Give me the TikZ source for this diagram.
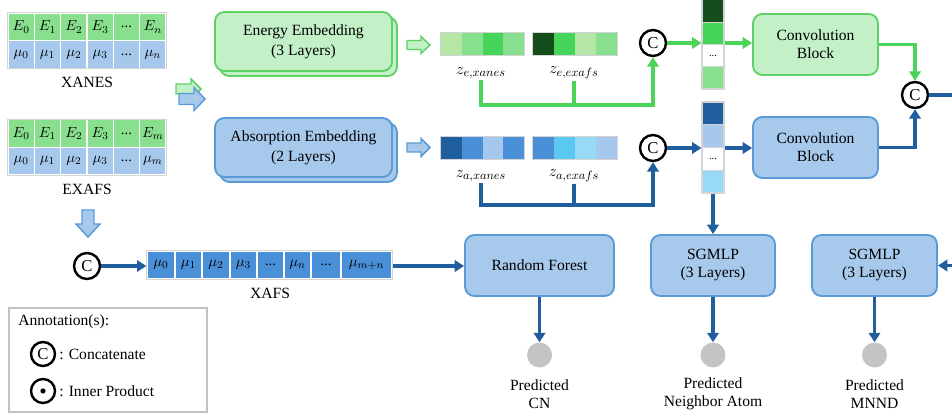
\documentclass[tikz,border=0pt]{standalone}
\usepackage{fontspec}
\setmainfont{Liberation Serif}
\usetikzlibrary{arrows.meta,calc}

\definecolor{gfill}{HTML}{C3F0C6}
\definecolor{gborder}{HTML}{5ED166}
\definecolor{gline}{HTML}{4CD35A}
\definecolor{bfill}{HTML}{A7C9EC}
\definecolor{bborder}{HTML}{5B9BD5}
\definecolor{bline}{HTML}{215E9E}
\definecolor{tgreen}{HTML}{88E08F}
\definecolor{tblue}{HTML}{A6C8EC}
\definecolor{xblue}{HTML}{4A90D9}
\definecolor{zga}{HTML}{B5E6A8}
\definecolor{zgb}{HTML}{88E08F}
\definecolor{zgc}{HTML}{47D45A}
\definecolor{zgd}{HTML}{154E1C}
\definecolor{zba}{HTML}{215E9E}
\definecolor{zbb}{HTML}{4A90D9}
\definecolor{zbc}{HTML}{A6C8EC}
\definecolor{zbd}{HTML}{5BC8F0}
\definecolor{zbe}{HTML}{96DAF5}
\definecolor{tborder}{HTML}{D4D4D4}
\definecolor{outgray}{HTML}{C4C4C4}

\newcommand\tdots{...}
\newcommand\rblockarrow[7]{% x0, yc, length, headlength, shafthalf, headhalf, style
  \draw[#7] ({#1},{#2-#5}) -- ({#1+#3-#4},{#2-#5}) -- ({#1+#3-#4},{#2-#6}) -- ({#1+#3},{#2})
  -- ({#1+#3-#4},{#2+#6}) -- ({#1+#3-#4},{#2+#5}) -- ({#1},{#2+#5}) -- cycle;}

\begin{document}
\begin{tikzpicture}[x=0.75pt,y=-0.75pt,
  font=\fontsize{11.7}{13.5}\selectfont,
  gbox/.style={draw=gborder, fill=gfill, line width=1.4pt, rounded corners=7pt, align=center, inner sep=0pt},
  bbox/.style={draw=bborder, fill=bfill, line width=1.4pt, rounded corners=7pt, align=center, inner sep=0pt},
  cnode/.style={circle, draw=black, line width=1.8pt, fill=white, minimum size=19.5pt, inner sep=0pt, font=\fontsize{12.5}{12.5}\selectfont},
  gl/.style={draw=gline, line width=2.5pt},
  bl/.style={draw=bline, line width=2.5pt},
  tip/.style={-{Triangle[length=7pt,width=8.5pt]}},
  tcell/.style={draw=white, line width=1pt, inner sep=0pt, minimum width=19.75pt, minimum height=20.6pt, font=\fontsize{11}{11}\selectfont},
  zcell/.style={draw=none, inner sep=0pt, minimum width=15.56pt, minimum height=16.5pt},
  vcell/.style={draw=tborder, line width=0.8pt, inner sep=0pt, minimum width=16.5pt, font=\fontsize{8}{8}\selectfont},
  gblock/.style={draw=gborder, fill=gfill, line width=1.1pt},
  bblock/.style={draw=bborder, fill=bfill, line width=1.1pt},
  outdot/.style={circle, fill=outgray, minimum size=18.75pt, inner sep=0pt},
  lbl/.style={align=center, inner sep=1pt}
]
\useasboundingbox (0,0) rectangle (952,416);

% ---------- XANES table ----------
\foreach \t [count=\i from 0] in {$E_0$,$E_1$,$E_2$,$E_3$,\tdots,$E_n$}
  \node[tcell, fill=tgreen] (xae\i) at ({8+26.33*(\i+0.5)},27) {\t};
\foreach \t [count=\i from 0] in {$\mu_0$,$\mu_1$,$\mu_2$,$\mu_3$,\tdots,$\mu_n$}
  \node[tcell, fill=tblue] (xam\i) at ({8+26.33*(\i+0.5)},54.5) {\t};
\draw[tborder, line width=0.8pt] (xae0.north west) rectangle (xam5.south east);
\node[lbl] (xanes) at (87,82) {XANES};

% ---------- EXAFS table ----------
\foreach \t [count=\i from 0] in {$E_0$,$E_1$,$E_2$,$E_3$,\tdots,$E_m$}
  \node[tcell, fill=tgreen] (exe\i) at ({8+26.33*(\i+0.5)},133.5) {\t};
\foreach \t [count=\i from 0] in {$\mu_0$,$\mu_1$,$\mu_2$,$\mu_3$,\tdots,$\mu_m$}
  \node[tcell, fill=tblue] (exm\i) at ({8+26.33*(\i+0.5)},161) {\t};
\draw[tborder, line width=0.8pt] (exe0.north west) rectangle (exm5.south east);
\node[lbl] (exafs) at (87,189) {EXAFS};

% ---------- block arrows ----------
\rblockarrow{176}{89}{25}{10}{5}{10}{gblock}
\rblockarrow{179}{99}{26}{11}{5.5}{11.5}{bblock}
\rblockarrow{407}{45}{23}{9}{4.5}{8.5}{gblock}
\rblockarrow{407}{147.5}{23}{9}{4.5}{9}{bblock}
\draw[bblock] (82,210) -- (94,210) -- (94,224) -- (100,224) -- (88,237) -- (76,224) -- (82,224) -- cycle;

% ---------- embeddings ----------
\node[gbox, minimum width=132.75pt, minimum height=44.25pt] (eeback) at (308.5,46.5) {};
\node[gbox, minimum width=132.75pt, minimum height=44.25pt, font=\fontsize{11.7}{15}\selectfont] (ee) at (303.5,41.5) {Energy Embedding\\(3 Layers)};
\node[bbox, minimum width=132.75pt, minimum height=44.25pt] (aeback) at (308.5,152.5) {};
\node[bbox, minimum width=132.75pt, minimum height=44.25pt, font=\fontsize{11.7}{15}\selectfont] (ae) at (303.5,147.5) {Absorption Embedding\\(2 Layers)};

% ---------- z vectors ----------
\foreach \c [count=\i from 0] in {zga,zgb,zgc,zgb}
  \node[zcell, fill=\c] (zex\i) at ({441+20.75*(\i+0.5)},44) {};
\foreach \c [count=\i from 0] in {zgd,zgc,zga,zgb}
  \node[zcell, fill=\c] (zee\i) at ({533+21*(\i+0.5)},44) {};
\foreach \c [count=\i from 0] in {zba,zbb,zbc,zbb}
  \node[zcell, fill=\c] (zax\i) at ({441+20.75*(\i+0.5)},148) {};
\foreach \c [count=\i from 0] in {zbb,zbd,zbe,zbc}
  \node[zcell, fill=\c] (zae\i) at ({533+21*(\i+0.5)},148) {};
\draw[tborder, line width=0.6pt] (zex0.north west) rectangle (zex3.south east);
\draw[tborder, line width=0.6pt] (zee0.north west) rectangle (zee3.south east);
\draw[tborder, line width=0.6pt] (zax0.north west) rectangle (zax3.south east);
\draw[tborder, line width=0.6pt] (zae0.north west) rectangle (zae3.south east);

\node[lbl, font=\fontsize{13}{13}\selectfont] (lzex) at (481,73) {$z_{e,xanes}$};
\node[lbl, font=\fontsize{13}{13}\selectfont] (lzee) at (574,73) {$z_{e,exafs}$};
\node[lbl, font=\fontsize{13}{13}\selectfont] (lzax) at (481,176) {$z_{a,xanes}$};
\node[lbl, font=\fontsize{13}{13}\selectfont] (lzae) at (574,176) {$z_{a,exafs}$};

% ---------- concat circles ----------
\node[cnode] (ct) at (653,43) {C};
\node[cnode] (cb) at (653,148) {C};
\coordinate (gy) at (0,105);
\coordinate (by) at (0,205);
\draw[gl, tip] (lzex.south) |- (gy -| ct) -- (ct.south);
\draw[gl] (lzee.south) -- (lzee.south |- gy);
\draw[bl, tip] (lzax.south) |- (by -| cb) -- (cb.south);
\draw[bl] (lzae.south) -- (lzae.south |- by);

% ---------- column vectors ----------
\node[vcell, fill=zgd, minimum height=16.7pt] (vt0) at (713,11.1) {};
\node[vcell, fill=zgc, minimum height=16.7pt] (vt1) at (713,33.4) {};
\node[vcell, fill=white, minimum height=16.7pt] (vt2) at (713,55.6) {\tdots};
\node[vcell, fill=zgb, minimum height=16.7pt] (vt3) at (713,77.9) {};
\node[vcell, fill=zba, minimum height=17.1pt] (vb0) at (713,113.4) {};
\node[vcell, fill=zbc, minimum height=17.1pt] (vb1) at (713,136.1) {};
\node[vcell, fill=white, minimum height=17.1pt] (vb2) at (713,158.9) {\tdots};
\node[vcell, fill=zbe, minimum height=17.1pt] (vb3) at (713,181.6) {};
\draw[tborder, line width=1.2pt] (vt0.north west) rectangle (vt3.south east);
\draw[tborder, line width=1.2pt] (vb0.north west) rectangle (vb3.south east);

% ---------- convolution blocks ----------
\node[gbox, minimum width=93.75pt, minimum height=45.75pt] (convt) at (815.5,44.5) {Convolution\\Block};
\node[bbox, minimum width=93.75pt, minimum height=45.75pt] (convb) at (815.5,147.5) {Convolution\\Block};

\draw[gl, tip] (ct.east) -- (ct.east -| vt0.west);
\draw[gl, tip] (ct -| vt0.east) -- (ct -| convt.west);
\draw[bl, tip] (cb.east) -- (cb.east -| vb0.west);
\draw[bl, tip] (cb -| vb0.east) -- (cb -| convb.west);

\node[cnode] (cr) at (915,95) {C};
\draw[gl, tip] (convt.east) -| (cr.north);
\draw[bl, tip] (convb.east) -| (cr.south);
\coordinate (rout) at (953,95);
\draw[bl] (cr.east) -- (rout);

% ---------- XAFS row ----------
\node[cnode] (cx) at (87,266) {C};
\foreach \a/\b/\t [count=\i from 0] in {147/175/{$\mu_0$},175/202/{$\mu_1$},202/230/{$\mu_2$},230/257/{$\mu_3$},257/284/{\tdots},284/311/{$\mu_n$},311/341/{\tdots},341/392/{$\mu_{m+n}$}}
  \node[tcell, fill=xblue, minimum height=21pt, minimum width={(\b-\a)*0.75pt}] (xf\i) at ({(\a+\b)/2},265) {\t};
\draw[tborder, line width=0.8pt] (xf0.north west) rectangle (xf7.south east);
\node[lbl] (xafs) at (270,293) {XAFS};
\draw[bl, tip] (cx.east) -- (cx.east -| xf0.west);

% ---------- bottom heads ----------
\node[bbox, minimum width=111.75pt, minimum height=45.75pt] (rf) at (539.5,265.5) {Random Forest};
\node[bbox, minimum width=93pt, minimum height=45.75pt] (sg1) at (713,265.5) {SGMLP\\(3 Layers)};
\node[bbox, minimum width=93.75pt, minimum height=45.75pt] (sg2) at (874.5,265.5) {SGMLP\\(3 Layers)};

\draw[bl, tip] (xf7.east |- cx) -- (cx -| rf.west);
\draw[bl, tip] (vb3.south) -- (sg1.north);
\coordinate (rin) at (953,265.5);
\draw[bl, tip] (rin) -- (sg2.east);

\node[outdot] (ocn) at (539.5,355) {};
\node[outdot] (ona) at (713,355) {};
\node[outdot] (omn) at (874.5,355) {};
\draw[bl, tip] (rf.south) -- (ocn.north);
\draw[bl, tip] (sg1.south) -- (ona.north);
\draw[bl, tip] (sg2.south) -- (omn.north);

\node[lbl, font=\fontsize{11.7}{13.5}\selectfont] (tcn) at (539.5,394) {Predicted\\CN};
\node[lbl, font=\fontsize{11.7}{13.5}\selectfont] (tna) at (713,394) {Predicted\\Neighbor Atom};
\node[lbl, font=\fontsize{11.7}{13.5}\selectfont] (tmn) at (874.5,394) {Predicted\\MNND};

% ---------- annotation box ----------
\node[draw=tborder!80!gray, line width=1.5pt, minimum width=148.5pt, minimum height=78pt, inner sep=0pt] (ann) at (108,360) {};
\node[anchor=west, inner sep=0pt] (anntitle) at (18,322) {Annotation(s):};
\node[cnode, minimum size=18pt] (annc) at (43,354) {C};
\node[anchor=west, inner sep=0pt] (anncc) at (59,354) {: Concatenate};
\node[cnode, minimum size=18pt] (annd) at (43,391) {};
\fill (annd.center) circle (2.6);
\node[anchor=west, inner sep=0pt] (anndd) at (59,391) {: Inner Product};
\end{tikzpicture}
\end{document}
